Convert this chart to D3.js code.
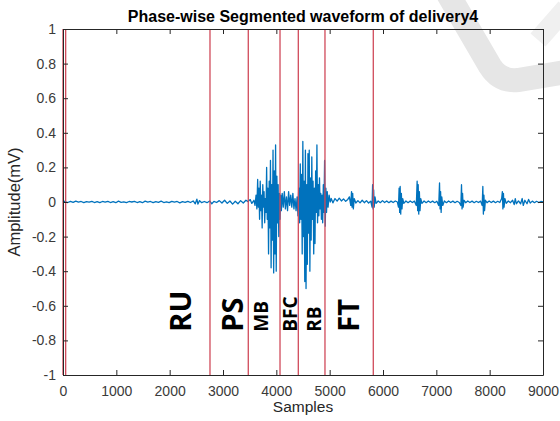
<!DOCTYPE html>
<html>
<head>
<meta charset="utf-8">
<script src="https://d3js.org/d3.v7.min.js"></script>
<style>
    body { margin: 0; background: #fff; }
    svg { display: block; }
</style>
</head>
<body>
<div id="viz"></div>
<script>
// values (sample index, amplitude in mV)
let wave = [
    [0, 0.006], [40, 0.002], [90, -0.003], [140, 0.004], [190, -0.002], [240, 0.005], [290, -0.001], [340, 0.003],
    [390, -0.004], [440, 0.002], [490, -0.001], [540, 0.004], [590, -0.003], [640, 0.002], [690, -0.004], [740, 0.003],
    [790, -0.001], [840, 0.004], [890, -0.003], [940, 0.002], [990, -0.004], [1040, 0.005], [1090, -0.002], [1140, 0.001],
    [1190, -0.004], [1240, 0.003], [1290, 0.0], [1340, 0.004], [1390, -0.003], [1440, 0.002], [1490, -0.004], [1540, 0.005],
    [1590, -0.001], [1640, 0.003], [1690, -0.004], [1740, 0.002], [1790, -0.002], [1840, 0.005], [1890, -0.003], [1940, 0.001],
    [1990, -0.004], [2040, 0.004], [2090, -0.001], [2140, 0.003], [2190, -0.005], [2240, 0.002], [2290, -0.002], [2340, 0.004],
    [2390, -0.003], [2440, 0.006], [2480, -0.01], [2510, 0.016], [2530, -0.012], [2560, 0.008], [2600, -0.004], [2650, 0.003],
    [2700, -0.004], [2750, 0.006], [2790, -0.01], [2830, 0.004], [2880, -0.003], [2930, 0.008], [2980, -0.006], [3030, 0.01],
    [3080, -0.008], [3130, 0.006], [3180, -0.012], [3230, 0.004], [3280, -0.01], [3330, 0.008], [3380, -0.006], [3430, 0.01],
    [3470, 0.002], [3510, 0.014], [3540, -0.008],
    // MB burst
    [3580, 0.01], [3600, -0.02], [3620, 0.04], [3635, -0.04], [3650, 0.13], [3662, -0.03], [3674, 0.08], [3686, -0.1],
    [3698, 0.12], [3710, -0.05], [3722, 0.04], [3734, -0.15], [3746, 0.1], [3758, -0.03], [3770, 0.06], [3782, -0.12],
    [3794, 0.02], [3806, -0.06], [3818, 0.2], [3830, -0.1], [3842, 0.08], [3854, -0.3], [3866, 0.12], [3878, -0.15],
    [3890, 0.24], [3902, -0.38], [3914, 0.1], [3926, -0.22], [3938, 0.3], [3950, -0.41], [3962, 0.18], [3974, -0.3],
    [3986, 0.33], [3998, -0.4], [4010, 0.15], [4022, -0.12], [4034, 0.1], [4046, -0.2], [4058, 0.05], [4070, -0.1],
    [4082, 0.04], [4094, -0.05], [4110, 0.05], [4130, -0.03], [4150, 0.06], [4170, -0.04], [4190, 0.03], [4210, -0.05],
    [4230, 0.06], [4250, -0.02], [4270, 0.04], [4290, -0.03], [4310, 0.05], [4330, -0.04], [4350, 0.02], [4370, -0.05],
    [4390, 0.03], [4405, -0.08], [4418, 0.06],
    // BFC / RB burst
    [4425, 0.08], [4437, -0.12], [4449, 0.22], [4461, -0.1], [4473, 0.16], [4485, -0.3], [4497, 0.35], [4509, -0.2],
    [4521, 0.12], [4533, -0.46], [4545, 0.3], [4557, -0.5], [4569, 0.1], [4581, -0.36], [4593, 0.28], [4605, -0.18],
    [4617, 0.3], [4629, -0.4], [4641, 0.14], [4653, -0.22], [4665, 0.26], [4677, -0.1], [4689, 0.12], [4701, -0.3],
    [4713, 0.08], [4725, -0.24], [4737, 0.18], [4749, -0.06], [4761, 0.33], [4773, -0.12], [4785, 0.1], [4797, -0.08],
    [4809, 0.14], [4821, -0.04], [4833, 0.05], [4845, -0.1], [4857, 0.04], [4869, -0.12], [4881, 0.1], [4893, -0.06],
    [4905, 0.24], [4917, -0.14], [4929, 0.08], [4941, -0.06], [4955, 0.06], [4970, -0.03], [4990, 0.04], [5010, 0.0],
    // follow through
    [5030, 0.02], [5060, -0.005], [5100, 0.02], [5140, 0.005], [5180, 0.022], [5220, 0.006], [5260, 0.018], [5300, 0.004],
    [5340, 0.015], [5370, 0.03], [5395, -0.02], [5410, 0.06], [5420, -0.03], [5432, 0.05], [5444, -0.04], [5460, 0.02],
    [5490, -0.006], [5530, 0.008], [5570, -0.005], [5610, 0.01], [5650, -0.004], [5690, 0.008], [5730, -0.006], [5770, 0.005],
    [5795, -0.03], [5805, 0.1], [5815, -0.04], [5825, 0.07], [5835, -0.03], [5850, 0.03], [5870, -0.008], [5910, 0.006],
    [5950, -0.004], [5990, 0.008], [6030, -0.003], [6070, 0.006], [6110, -0.004], [6150, 0.005], [6190, -0.003], [6230, 0.006],
    [6270, 0.0], [6290, -0.03], [6302, 0.08], [6312, -0.06], [6322, 0.09], [6332, -0.07], [6344, 0.05], [6356, -0.04],
    [6370, 0.02], [6390, -0.008], [6430, 0.006], [6470, -0.004], [6510, 0.006], [6550, -0.003], [6590, 0.005], [6625, -0.02],
    [6640, 0.12], [6650, -0.05], [6660, 0.1], [6670, -0.07], [6682, 0.06], [6694, -0.05], [6708, 0.02], [6730, -0.008],
    [6770, 0.006], [6810, -0.004], [6850, 0.006], [6890, -0.003], [6930, 0.005], [6970, -0.004], [7010, 0.004], [7045, -0.02],
    [7060, 0.11], [7070, -0.04], [7080, 0.06], [7090, -0.06], [7102, 0.03], [7120, -0.02], [7150, 0.006], [7190, -0.004],
    [7230, 0.006], [7270, -0.003], [7310, 0.005], [7350, -0.004], [7390, 0.004], [7430, -0.003], [7460, -0.02], [7472, 0.1],
    [7482, -0.04], [7492, 0.05], [7502, -0.03], [7520, 0.01], [7550, -0.004], [7590, 0.006], [7630, -0.003], [7670, 0.005],
    [7710, -0.004], [7750, 0.004], [7790, -0.003], [7830, 0.005], [7860, -0.02], [7872, 0.09], [7882, -0.07], [7892, 0.04],
    [7904, -0.05], [7920, 0.01], [7950, -0.004], [7990, 0.006], [8030, -0.003], [8070, 0.005], [8110, -0.004], [8150, 0.004],
    [8190, -0.003], [8225, 0.02], [8238, 0.06], [8248, -0.04], [8258, 0.05], [8270, -0.03], [8285, 0.02], [8310, -0.008],
    [8350, 0.006], [8390, -0.004], [8430, 0.01], [8460, -0.015], [8480, 0.02], [8500, -0.01], [8540, 0.006], [8580, -0.01],
    [8610, 0.02], [8630, -0.02], [8660, 0.01], [8700, -0.01], [8730, 0.015], [8760, -0.006], [8800, 0.005], [8840, -0.004],
    [8880, 0.004], [8920, -0.003], [8960, 0.003], [9000, 0.0]
];

// phase boundaries (samples)
let phaseBounds = [0, 50, 2756, 3474, 4069, 4412, 4912, 5818];
// phase names and where they sit (sample at centre, amplitude at the foot of the text)
let phaseLabels = ["RU", "PS", "MB", "BFC", "RB", "FT"];
let phaseLabelAt = [2212, 3170, 3712, 4256, 4706, 5362];
let phaseLabelBig = [true, true, false, false, false, true];
let labelFoot = -0.75;

let xTicks = [0, 1000, 2000, 3000, 4000, 5000, 6000, 7000, 8000, 9000];
let yTicks = [-1, -0.8, -0.6, -0.4, -0.2, 0, 0.2, 0.4, 0.6, 0.8, 1];

let width = 560, height = 421;
let mLeft = 63, mRight = 543, mTop = 29, mBottom = 375;
let axisFont = "'Liberation Sans', Arial, Helvetica, sans-serif";

let svg = d3.select("#viz")
    .append("svg")
    .attr("width", width)
    .attr("height", height);

// faint grey watermark swoosh in the corner
svg.append("path")
    .attr("d", "M448,-6 L490,66 Q500,82 518,80 L566,72")
    .attr("fill", "none")
    .attr("stroke", "#e6e6e6")
    .attr("stroke-width", 24);
svg.append("path")
    .attr("d", "M566,8 L538,40")
    .attr("fill", "none")
    .attr("stroke", "#f0f0f0")
    .attr("stroke-width", 20);

let x = d3.scaleLinear().domain([0, 9000]).range([mLeft, mRight]);
let y = d3.scaleLinear().domain([-1, 1]).range([mBottom, mTop]);

// waveform
let line = d3.line()
    .x(d => x(d[0]))
    .y(d => y(d[1]));

svg.append("path")
    .datum(wave)
    .attr("fill", "none")
    .attr("stroke", "#0072BD")
    .attr("stroke-width", 1.3)
    .attr("stroke-linejoin", "round")
    .attr("d", line);

// segment boundaries
svg.selectAll(".bound")
    .data(phaseBounds)
    .enter()
    .append("line")
    .attr("class", "bound")
    .attr("x1", d => x(d))
    .attr("x2", d => x(d))
    .attr("y1", y(1))
    .attr("y2", y(-1))
    .attr("stroke", "#d04a5a")
    .attr("stroke-width", 1.3);

// axes, MATLAB-ish box with inward ticks
let fmt = d => String(d);

let gx = svg.append("g")
    .attr("transform", "translate(0," + mBottom + ")")
    .call(d3.axisBottom(x).tickValues(xTicks).tickFormat(fmt).tickSizeInner(-5).tickSizeOuter(0).tickPadding(11));
let gy = svg.append("g")
    .attr("transform", "translate(" + mLeft + ",0)")
    .call(d3.axisLeft(y).tickValues(yTicks).tickFormat(fmt).tickSizeInner(-5).tickSizeOuter(0).tickPadding(7));
let gt = svg.append("g")
    .attr("transform", "translate(0," + mTop + ")")
    .call(d3.axisTop(x).tickValues(xTicks).tickFormat("").tickSizeInner(-5).tickSizeOuter(0));
let gr = svg.append("g")
    .attr("transform", "translate(" + mRight + ",0)")
    .call(d3.axisRight(y).tickValues(yTicks).tickFormat("").tickSizeInner(-5).tickSizeOuter(0));

for (let g of [gx, gy, gt, gr]) {
    g.select(".domain").attr("stroke", "#262626").attr("stroke-width", 1);
    g.selectAll(".tick line").attr("stroke", "#262626");
    g.selectAll("text")
        .attr("fill", "#3a3a3a")
        .style("font-family", axisFont)
        .style("font-size", "14px");
}

// phase names, rotated
svg.selectAll(".phase")
    .data(phaseLabels)
    .enter()
    .append("text")
    .attr("class", "phase")
    .attr("transform", (d, i) => {
        let fs = phaseLabelBig[i] ? 29 : 19;
        return "translate(" + (x(phaseLabelAt[i]) + fs * 0.36) + "," + y(labelFoot) + ") rotate(-90)";
    })
    .attr("text-anchor", "start")
    .style("font-family", "'Open Sans', 'DejaVu Sans', sans-serif")
    .style("font-weight", "bold")
    .style("font-size", (d, i) => phaseLabelBig[i] ? "29px" : "19px")
    .attr("fill", "#000")
    .text(d => d);

// title and axis labels
svg.append("text")
    .attr("x", 303)
    .attr("y", 22)
    .attr("text-anchor", "middle")
    .style("font-family", axisFont)
    .style("font-weight", "bold")
    .style("font-size", "16px")
    .attr("fill", "#000")
    .text("Phase-wise Segmented waveform of delivery4");

svg.append("text")
    .attr("x", (mLeft + mRight) / 2)
    .attr("y", 412)
    .attr("text-anchor", "middle")
    .style("font-family", axisFont)
    .style("font-size", "15.5px")
    .attr("fill", "#262626")
    .text("Samples");

svg.append("text")
    .attr("transform", "translate(20," + ((mTop + mBottom) / 2) + ") rotate(-90)")
    .attr("text-anchor", "middle")
    .style("font-family", axisFont)
    .style("font-size", "16.5px")
    .attr("fill", "#262626")
    .text("Amplitude(mV)");
</script>
</body>
</html>
